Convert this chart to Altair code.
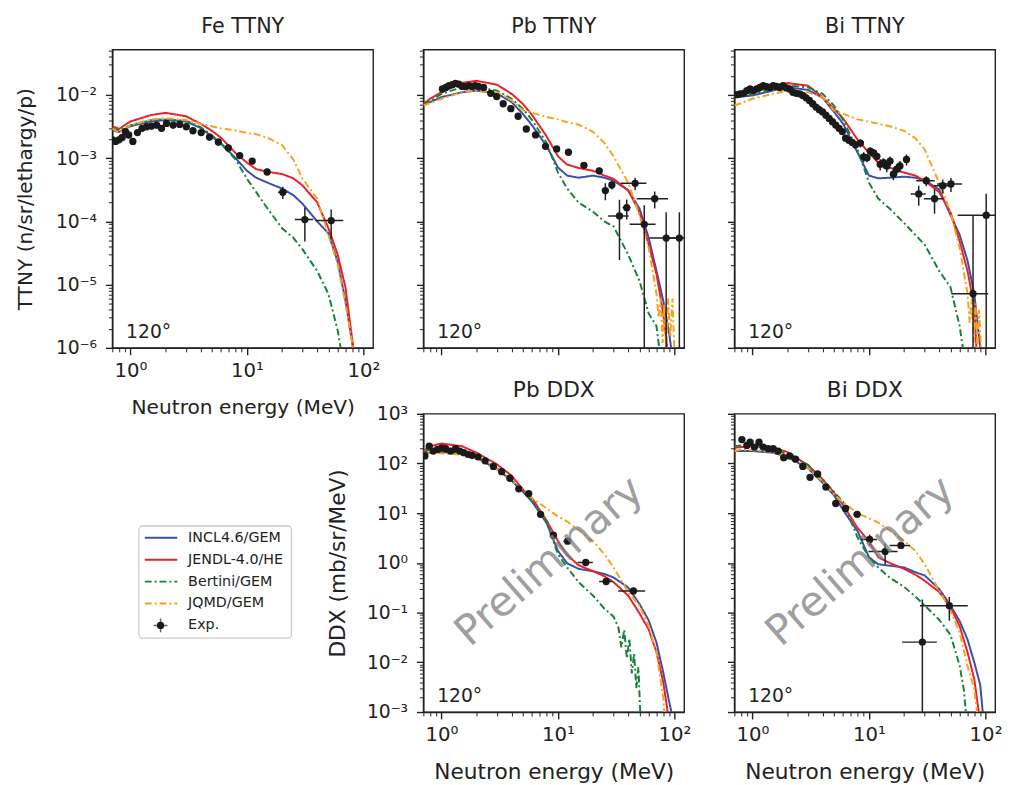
import altair as alt
import pandas as pd

# ---------------- text / categories ----------------
MODELS = ["INCL4.6/GEM", "JENDL-4.0/HE", "Bertini/GEM", "JQMD/GEM"]
COLORS = ["#3850a8", "#ec2027", "#17813c", "#f6a21c"]
DASHES = [[1, 0], [1, 0], [7, 3, 2, 3], [7, 3, 2, 3]]
EXP_LABEL = "Exp."
ANGLE_LABEL = "120°"
WATERMARK = "Preliminary"
PANEL_TITLES = ["Fe TTNY", "Pb TTNY", "Bi TTNY", "Pb DDX", "Bi DDX"]
X_TITLE = "Neutron energy (MeV)"
Y_TITLE_TTNY = "TTNY (n/sr/lethargy/p)"
Y_TITLE_DDX = "DDX (mb/sr/MeV)"

XDOMAIN = [0.7, 121]
TTNY_DOMAIN = [1e-6, 0.052]
DDX_DOMAIN = [1e-3, 1e3]
XTICKS = [0.7, 0.8, 0.9, 1, 2, 3, 4, 5, 6, 7, 8, 9, 10, 20, 30, 40, 50, 60, 70, 80, 90, 100]
TTNY_TICKS = [m * 10.0 ** e for e in range(-6, -2) for m in range(1, 10)] + [0.01, 0.02, 0.03, 0.04, 0.05]
DDX_TICKS = [m * 10.0 ** e for e in range(-3, 3) for m in range(1, 10)] + [1000]

# ---------------- energy grid of the read-off curves (MeV) ----------------
G = [0.7, 0.8, 1.0, 1.5, 2, 3, 4, 5, 6, 8, 10, 12, 15, 20, 25, 30, 40, 50, 60, 70, 80]

# ---------------- Fe TTNY ----------------
FE_INCL_E = G + [85]
FE_INCL = [2.75e-3, 2.6e-3, 3.2e-3, 3.8e-3, 4.0e-3, 3.8e-3, 3.0e-3, 2.2e-3, 1.7e-3, 1.0e-3, 6.3e-4,
           4.9e-4, 4.1e-4, 3.3e-4, 2.6e-4, 1.9e-4, 1.0e-4, 6.5e-5, 2.3e-5, 5.6e-6, 1.2e-6, 5e-7]
FE_JENDL_E = G + [85]
FE_JENDL = [3.2e-3, 2.9e-3, 3.8e-3, 4.8e-3, 5.2e-3, 4.6e-3, 3.5e-3, 2.7e-3, 2.1e-3, 1.2e-3, 8.5e-4,
            6.7e-4, 6.1e-4, 5.6e-4, 4.8e-4, 3.7e-4, 2.0e-4, 7.8e-5, 3.0e-5, 9.1e-6, 1.35e-6, 6e-7]
FE_BERT_E = G[:18] + [60, 65]
FE_BERT = [2.95e-3, 2.75e-3, 3.3e-3, 4.0e-3, 4.1e-3, 3.9e-3, 3.1e-3, 2.3e-3, 1.7e-3, 9.5e-4, 4.7e-4,
           2.9e-4, 1.6e-4, 7.8e-5, 5.5e-5, 3.6e-5, 1.65e-5, 7.1e-6, 1.9e-6, 8e-7]
FE_JQMD_E = G + [85]
FE_JQMD = [2.95e-3, 2.5e-3, 3.3e-3, 4.1e-3, 4.3e-3, 4.0e-3, 3.5e-3, 3.2e-3, 2.95e-3, 2.75e-3, 2.5e-3,
           2.4e-3, 2.1e-3, 1.6e-3, 9.5e-4, 4.7e-4, 2.3e-4, 6.1e-5, 2.1e-5, 5e-6, 1.2e-6, 5e-7]
FE_EXP_E = [0.704, 0.746, 0.797, 0.850, 0.907, 0.968, 1.05, 1.15, 1.26, 1.38, 1.52, 1.68, 1.85, 2.04,
            2.33, 2.65, 3.02, 3.44, 4.05, 4.77, 5.68, 6.93, 8.67, 11.1, 14.9, 20.3, 31.4, 52.8]
FE_EXP_V = [1.95e-3, 1.84e-3, 1.95e-3, 2.12e-3, 2.63e-3, 2.33e-3, 1.84e-3, 2.54e-3, 2.96e-3, 3.14e-3,
            3.22e-3, 3.34e-3, 2.96e-3, 3.54e-3, 3.34e-3, 3.42e-3, 3.14e-3, 2.72e-3, 2.54e-3, 2.15e-3,
            1.80e-3, 1.45e-3, 1.10e-3, 8.98e-4, 6.05e-4, 2.89e-4, 1.07e-4, 1.03e-4]
FE_EXP_DY = [0.12, 0.12, 0.12, 0.12, 0.12, 0.12, 0.12, 0.12, 0.12, 0.12, 0.12, 0.12, 0.12, 0.12,
             0.12, 0.12, 0.12, 0.12, 0.12, 0.12, 0.12, 0.12, 0.12, 0.12, 0.12, 0.22, 0.55, 0.5]
FE_EXP_DE = [0.02, 0.02, 0.02, 0.02, 0.02, 0.02, 0.02, 0.02, 0.02, 0.02, 0.02, 0.02, 0.02, 0.02,
             0.02, 0.02, 0.02, 0.02, 0.02, 0.02, 0.02, 0.02, 0.02, 0.03, 0.05, 0.09, 0.18, 0.27]

# ---------------- Pb TTNY ----------------
PB_INCL_E = G + [90, 95]
PB_INCL = [6.8e-3, 7.7e-3, 9.2e-3, 1.1e-2, 1.17e-2, 1.06e-2, 7.7e-3, 5.0e-3, 3.3e-3, 1.54e-3, 7.1e-4,
           5.3e-4, 4.9e-4, 5.3e-4, 4.9e-4, 4.4e-4, 3.1e-4, 1.6e-4, 5.5e-5, 1.65e-5, 5.6e-6, 1.7e-6, 8e-7]
PB_JENDL_E = G + [88]
PB_JENDL = [7.2e-3, 8.7e-3, 1.1e-2, 1.55e-2, 1.67e-2, 1.45e-2, 1.04e-2, 7.2e-3, 4.8e-3, 2.2e-3, 1.07e-3,
            7.9e-4, 7.0e-4, 6.3e-4, 5.3e-4, 4.7e-4, 3.1e-4, 1.4e-4, 4.3e-5, 1.47e-5, 3.5e-6, 8e-7]
PB_BERT_E = G[:20] + [75]
PB_BERT = [7.2e-3, 7.9e-3, 1.04e-2, 1.32e-2, 1.32e-2, 1.17e-2, 8.7e-3, 6.0e-3, 4.0e-3, 1.74e-3, 5.9e-4,
           3.3e-4, 2.0e-4, 1.42e-4, 1.0e-4, 8.3e-5, 3.0e-5, 1.15e-5, 3.5e-6, 2.2e-6, 8e-7]
PB_JQMD_E = G[:20] + [73, 76, 79, 82, 85, 88, 92, 96, 100]
PB_JQMD = [6.8e-3, 7.4e-3, 8.7e-3, 1.1e-2, 1.17e-2, 1.1e-2, 8.2e-3, 5.7e-3, 5.2e-3, 4.5e-3, 4.1e-3,
           3.7e-3, 3.4e-3, 2.6e-3, 1.74e-3, 1.07e-3, 4.1e-4, 1.26e-4, 3.8e-5, 7.1e-6,
           3e-6, 6e-6, 1.2e-6, 5e-6, 8e-7, 6e-6, 1.5e-6, 6e-6, 8e-7]
PB_EXP_E = [1.02, 1.09, 1.16, 1.24, 1.32, 1.41, 1.51, 1.61, 1.72, 1.83, 1.95, 2.08, 2.30, 2.65, 2.98,
            3.39, 3.94, 4.55, 5.35, 6.42, 7.82, 9.74, 12.3, 16.7, 22.6, 25.5, 29.0, 33.7, 38.9, 45.9,
            55.0, 67.6, 84.8, 110]
PB_EXP_V = [1.24e-2, 1.31e-2, 1.40e-2, 1.45e-2, 1.52e-2, 1.48e-2, 1.36e-2, 1.35e-2, 1.40e-2, 1.36e-2,
            1.40e-2, 1.36e-2, 1.31e-2, 1.06e-2, 9.4e-3, 7.25e-3, 6.05e-3, 4.6e-3, 2.89e-3, 2.33e-3,
            1.54e-3, 1.40e-3, 1.24e-3, 7.7e-4, 6.3e-4, 3.07e-4, 3.76e-4, 1.22e-4, 1.65e-4, 4.0e-4,
            9.0e-5, 2.28e-4, 5.45e-5, 5.45e-5]
PB_EXP_DY = [0.06, 0.06, 0.06, 0.06, 0.06, 0.06, 0.06, 0.06, 0.06, 0.06, 0.06, 0.06, 0.06, 0.08, 0.08,
             0.08, 0.08, 0.08, 0.1, 0.1, 0.1, 0.1, 0.1, 0.12, 0.12, 0.3, 0.15, 0.8, 0.35, 0.22,
             1.0, 0.3, 1.57, 1.57]
PB_EXP_DE = [0.02, 0.02, 0.02, 0.02, 0.02, 0.02, 0.02, 0.02, 0.02, 0.02, 0.02, 0.02, 0.02, 0.02, 0.02,
             0.02, 0.02, 0.02, 0.02, 0.02, 0.02, 0.02, 0.03, 0.04, 0.05, 0.06, 0.05, 0.2, 0.08, 0.25,
             0.25, 0.3, 0.28, 0.2]

# ---------------- Bi TTNY ----------------
BI_INCL_E = G + [90]
BI_INCL = [9.2e-3, 9.4e-3, 9.8e-3, 1.17e-2, 1.32e-2, 1.2e-2, 9.0e-3, 5.4e-3, 3.5e-3, 1.21e-3, 5.3e-4,
           4.8e-4, 4.9e-4, 5.1e-4, 4.9e-4, 4.5e-4, 3.2e-4, 1.26e-4, 6.1e-5, 2.4e-5, 7.2e-6, 1e-6]
BI_JENDL_E = G + [84]
BI_JENDL = [9.2e-3, 9.8e-3, 1.1e-2, 1.4e-2, 1.54e-2, 1.4e-2, 9.2e-3, 6.05e-3, 4.24e-3, 1.95e-3, 1.21e-3,
            8.5e-4, 7.1e-4, 5.9e-4, 5.3e-4, 4.4e-4, 2.9e-4, 1.4e-4, 4.8e-5, 1.65e-5, 4.5e-6, 8e-7]
BI_BERT_E = G[:19] + [65]
BI_BERT = [9.4e-3, 9.8e-3, 1.04e-2, 1.24e-2, 1.4e-2, 1.32e-2, 1.04e-2, 6.8e-3, 4.0e-3, 1.36e-3, 4.1e-4,
           2.3e-4, 1.6e-4, 9.4e-5, 6.1e-5, 4.3e-5, 1.65e-5, 9.1e-6, 2.2e-6, 8e-7]
BI_JQMD_E = G[:20] + [73, 76, 79, 82, 85, 88, 92]
BI_JQMD = [6.8e-3, 7.4e-3, 8.7e-3, 1.04e-2, 1.17e-2, 1.1e-2, 9.2e-3, 5.7e-3, 5.0e-3, 4.1e-3, 3.76e-3,
           3.5e-3, 3.2e-3, 2.7e-3, 2.07e-3, 1.37e-3, 4.1e-4, 1.4e-4, 3.8e-5, 7.2e-6,
           2.5e-6, 6e-6, 1.2e-6, 5e-6, 1e-6, 4e-6, 8e-7]
BI_EXP_E = [0.737, 0.786, 0.839, 0.895, 0.955, 1.02, 1.088, 1.161, 1.239, 1.323, 1.411, 1.507, 1.607,
            1.716, 1.831, 1.954, 2.085, 2.226, 2.375, 2.535, 2.705, 2.887, 3.082, 3.289, 3.51, 3.746,
            3.998, 4.266, 4.553, 4.858, 5.185, 5.533, 5.905, 6.30, 6.73, 7.18, 7.66, 8.45, 9.01, 9.62,
            10.26, 10.95, 11.69, 12.47, 13.31, 14.21, 15.16, 16.18, 17.27, 18.43, 20.99, 26.7, 31.0,
            36.5, 42.9, 50.5, 78.1, 101.3]
BI_EXP_V = [1.01e-2, 1.04e-2, 1.06e-2, 1.17e-2, 1.24e-2, 1.17e-2, 1.24e-2, 1.31e-2, 1.40e-2, 1.35e-2,
            1.31e-2, 1.40e-2, 1.36e-2, 1.31e-2, 1.40e-2, 1.29e-2, 1.24e-2, 1.10e-2, 1.06e-2, 1.04e-2,
            9.8e-3, 8.98e-3, 8.16e-3, 7.25e-3, 6.43e-3, 5.85e-3, 5.38e-3, 4.78e-3, 4.24e-3, 3.76e-3,
            3.34e-3, 2.96e-3, 2.63e-3, 2.07e-3, 1.91e-3, 1.77e-3, 1.63e-3, 1.73e-3, 1.05e-3, 1.01e-3,
            1.29e-3, 1.21e-3, 1.07e-3, 7.98e-4, 8.46e-4, 7.51e-4, 8.98e-4, 5.57e-4, 6.67e-4, 7.51e-4,
            9.53e-4, 2.72e-4, 4.39e-4, 2.28e-4, 3.67e-4, 3.90e-4, 7.2e-6, 1.25e-4]
BI_EXP_DY = [0.08, 0.08, 0.08, 0.08, 0.08, 0.08, 0.08, 0.08, 0.08, 0.08, 0.08, 0.08, 0.08, 0.08, 0.08,
             0.08, 0.08, 0.08, 0.08, 0.08, 0.08, 0.08, 0.08, 0.08, 0.08, 0.08, 0.08, 0.08, 0.08, 0.08,
             0.1, 0.1, 0.1, 0.1, 0.1, 0.12, 0.12, 0.15, 0.18, 0.15, 0.15, 0.15, 0.15, 0.2, 0.18,
             0.2, 0.18, 0.2, 0.2, 0.2, 0.2, 0.35, 0.18, 0.42, 0.25, 0.25, 16.4, 1.18]
BI_EXP_DE = [0.02, 0.02, 0.02, 0.02, 0.02, 0.02, 0.02, 0.02, 0.02, 0.02, 0.02, 0.02, 0.02, 0.02, 0.02,
             0.02, 0.02, 0.02, 0.02, 0.02, 0.02, 0.02, 0.02, 0.02, 0.02, 0.02, 0.02, 0.02, 0.02, 0.02,
             0.025, 0.025, 0.025, 0.025, 0.025, 0.03, 0.03, 0.03, 0.03, 0.03, 0.035, 0.035, 0.035,
             0.035, 0.035, 0.04, 0.04, 0.04, 0.04, 0.04, 0.05, 0.146, 0.18, 0.19, 0.16, 0.24, 0.35, 0.43]

# ---------------- Pb DDX ----------------
PBD_INCL_E = G + [90, 95]
PBD_INCL = [165, 165, 170, 160, 131, 77, 45, 27, 17, 6.3, 1.74, 0.98, 0.76, 0.68, 0.60, 0.51, 0.32,
            0.15, 0.07, 0.025, 6.3e-3, 1.6e-3, 9e-4]
PBD_JENDL_E = G + [88]
PBD_JENDL = [178, 223, 252, 223, 165, 96, 57, 30, 20, 7.1, 2.74, 1.45, 0.9, 0.68, 0.54, 0.41, 0.22,
             0.097, 0.046, 0.016, 4e-3, 9e-4]
PBD_BERT_E = G[:16] + [33, 35, 37, 39, 41, 43, 45, 47, 49, 51]
PBD_BERT = [170, 192, 178, 165, 136, 80, 47, 28, 18, 6.8, 1.49, 0.81, 0.41, 0.22, 0.12, 0.083,
            0.05, 0.02, 0.045, 0.012, 0.03, 0.006, 0.015, 0.003, 0.008, 8e-4]
PBD_JQMD_E = G + [82]
PBD_JQMD = [142, 165, 160, 150, 125, 77, 45, 30, 20, 12.5, 8.6, 6.8, 4.6, 2.74, 1.49, 0.81, 0.26,
            0.14, 0.053, 0.016, 1.9e-3, 9e-4]
PBD_EXP_E = [0.722, 0.786, 0.850, 0.925, 1.006, 1.088, 1.20, 1.323, 1.439, 1.556, 1.694, 1.831, 2.06,
             2.375, 2.795, 3.289, 3.87, 4.61, 5.61, 7.09, 9.13, 12.1, 17.3, 25.9, 44.4]
PBD_EXP_V = [142, 223, 178, 192, 207, 198, 178, 198, 178, 165, 153, 146, 136, 113, 87.3, 68.4, 50.5,
             31.0, 24.8, 9.51, 3.60, 2.74, 1.02, 0.423, 0.273]
PBD_EXP_DY = [0.04, 0.04, 0.04, 0.04, 0.04, 0.04, 0.04, 0.04, 0.04, 0.04, 0.04, 0.04, 0.04, 0.04, 0.04,
              0.04, 0.04, 0.04, 0.04, 0.05, 0.06, 0.08, 0.1, 0.12, 0.15]
PBD_EXP_DE = [0.02, 0.02, 0.02, 0.02, 0.02, 0.02, 0.02, 0.02, 0.02, 0.02, 0.02, 0.02, 0.02, 0.02, 0.02,
              0.02, 0.02, 0.02, 0.02, 0.03, 0.04, 0.08, 0.15, 0.13, 0.26]

# ---------------- Bi DDX ----------------
BID_INCL_E = G + [90, 95]
BID_INCL = [178, 178, 178, 165, 135, 80, 41, 23, 11.6, 4.3, 1.3, 0.94, 0.88, 0.81, 0.65, 0.56, 0.30,
            0.14, 0.067, 0.029, 0.01, 3.5e-3, 9e-4]
BID_JENDL_E = G + [88]
BID_JENDL = [207, 214, 223, 207, 170, 92, 48, 26, 14.5, 5.0, 2.74, 1.3, 1.0, 0.76, 0.58, 0.44, 0.26,
             0.13, 0.053, 0.016, 4.6e-3, 9e-4]
BID_BERT_E = G[:19] + [65, 68]
BID_BERT = [223, 230, 223, 192, 153, 94, 48, 27, 17, 3.2, 1.3, 0.81, 0.51, 0.33, 0.21, 0.14, 0.072,
            0.036, 8.5e-3, 2.9e-3, 9e-4]
BID_JQMD_E = G + [85]
BID_JQMD = [178, 192, 186, 170, 135, 81, 43, 24, 16.5, 10, 7.9, 6.5, 4.5, 2.8, 1.74, 0.94, 0.28,
            0.11, 0.039, 8.5e-3, 2.9e-3, 9e-4]
BID_EXP_E = [0.812, 0.895, 0.955, 1.04, 1.139, 1.239, 1.366, 1.507, 1.661, 1.855, 2.085, 2.344, 2.705,
             3.12, 3.625, 4.266, 5.185, 6.30, 7.91, 10.13, 13.75, 18.79, 28.7, 48.9]
BID_EXP_V = [303, 231, 268, 214, 268, 214, 198, 198, 178, 131, 142, 122, 87.3, 52.8, 61.5, 33.5, 15.7,
             12.5, 9.51, 2.96, 1.69, 2.25, 0.0255, 0.138]
BID_EXP_DY = [0.04, 0.04, 0.04, 0.04, 0.04, 0.04, 0.04, 0.04, 0.04, 0.04, 0.04, 0.04, 0.04, 0.04, 0.04,
              0.04, 0.04, 0.04, 0.06, 0.25, 0.45, 0.08, 6.2, 0.5]
BID_EXP_DE = [0.02, 0.02, 0.02, 0.02, 0.02, 0.02, 0.02, 0.02, 0.02, 0.02, 0.02, 0.02, 0.02, 0.02, 0.02,
              0.02, 0.02, 0.02, 0.07, 0.16, 0.28, 0.2, 0.33, 0.44]

# ---------------- helpers ----------------
FONT = "DejaVu Sans"
INK = "#222222"
W, H = 265, 303

MAJOR = "abs(log(datum.value)/LN10 - round(log(datum.value)/LN10)) < 0.001"
SUP = "['\u207b\u2076','\u207b\u2075','\u207b\u2074','\u207b\u00b3','\u207b\u00b2','\u207b\u00b9','\u2070','\u00b9','\u00b2','\u00b3']"
LABEL_EXPR = MAJOR + " ? '10' + " + SUP + "[round(log(datum.value)/LN10) + 6] : ''"
TICK_SIZE = {"condition": {"test": MAJOR, "value": 7}, "value": 4}
TICK_WIDTH = {"condition": {"test": MAJOR, "value": 1.4}, "value": 1.0}


def curves_frame(series):
    rows = []
    for model, es, vs in series:
        assert len(es) == len(vs), model
        for e, v in zip(es, vs):
            rows.append({"model": model, "E": e, "v": v})
    return pd.DataFrame(rows)


def exp_frame(es, vs, dys, des, floor):
    assert len(es) == len(vs) == len(dys) == len(des)
    rows = []
    for e, v, dy, de in zip(es, vs, dys, des):
        rows.append({"E": e, "v": v,
                     "vlo": max(v * (1 - dy), floor), "vhi": v * (1 + dy),
                     "Elo": e * (1 - de), "Ehi": e * (1 + de)})
    return pd.DataFrame(rows)


def make_axis(show_labels, title, ticks, label_size, title_size, title_pad, label_pad):
    kw = dict(values=ticks, tickSize=TICK_SIZE, tickWidth=TICK_WIDTH, tickColor=INK,
              domainColor=INK, domainWidth=1.4, grid=False, labelFlush=False,
              labelOverlap=False, labels=show_labels, title=title)
    if show_labels:
        kw.update(labelExpr=LABEL_EXPR, labelFontSize=label_size, labelColor=INK,
                  labelFont=FONT, labelPadding=label_pad)
    if title:
        kw.update(titleFontSize=title_size, titleColor=INK, titleFont=FONT,
                  titleFontWeight="normal", titlePadding=title_pad)
    return alt.Axis(**kw)


def panel(series, exp, ydomain, yticks, title, show_x, show_y, ytitle, big, watermark):
    xs = alt.Scale(type="log", domain=XDOMAIN, nice=False)
    ys = alt.Scale(type="log", domain=ydomain, nice=False)
    tsize = 22 if big else 20.5
    xa = make_axis(show_x, X_TITLE if show_x else "", XTICKS, 20, tsize, 18, 6)
    ya = make_axis(show_y, ytitle if show_y else "", yticks, 19, tsize, 17 if big else 20, 9)
    X = lambda f: alt.X(f, scale=xs, axis=xa)
    Y = lambda f: alt.Y(f, scale=ys, axis=ya)
    color = alt.Color("model:N", scale=alt.Scale(domain=MODELS, range=COLORS), legend=None)
    dash = alt.StrokeDash("model:N", scale=alt.Scale(domain=MODELS, range=DASHES), legend=None)

    cdf = curves_frame(series)
    layers = []
    for m in MODELS:
        layers.append(
            alt.Chart(cdf[cdf["model"] == m]).mark_line(strokeWidth=2, clip=True)
            .encode(x=X("E:Q"), y=Y("v:Q"), color=color, strokeDash=dash)
        )
    edf = exp_frame(*exp)
    layers.append(alt.Chart(edf).mark_rule(color=INK, strokeWidth=1.5, clip=True)
                  .encode(x=X("E:Q"), y=Y("vlo:Q"), y2="vhi:Q"))
    layers.append(alt.Chart(edf).mark_rule(color=INK, strokeWidth=1.5, clip=True)
                  .encode(x=X("Elo:Q"), x2="Ehi:Q", y=Y("v:Q")))
    layers.append(alt.Chart(edf).mark_circle(size=55, color="#1a1a1a", opacity=1, clip=True)
                  .encode(x=X("E:Q"), y=Y("v:Q")))
    ann = pd.DataFrame({"t": [ANGLE_LABEL], "title": [title]})
    layers.append(alt.Chart(ann).mark_text(align="left", baseline="alphabetic", fontSize=19,
                                           font=FONT, color=INK)
                  .encode(text="t:N", x=alt.value(14), y=alt.value(293)))
    # panel title drawn as text so its position does not depend on axis bounds
    layers.append(alt.Chart(ann).mark_text(align="center", baseline="alphabetic",
                                           fontSize=22 if big else 21, font=FONT, color=INK)
                  .encode(text="title:N", x=alt.value(W / 2), y=alt.value(-17)))
    if watermark:
        wm = pd.DataFrame({"t": [WATERMARK]})
        layers.append(alt.Chart(wm).mark_text(align="center", baseline="middle", fontSize=42,
                                              font=FONT, color="#7f7f7f", opacity=0.75, angle=319)
                      .encode(text="t:N", x=alt.value(128), y=alt.value(150)))
    return alt.layer(*layers).properties(width=W, height=H)


def legend_panel():
    labels = MODELS + [EXP_LABEL]
    ysc = alt.Scale(type="point", domain=labels, range=[126, 215], padding=0)
    Yl = alt.Y("label:N", scale=ysc, axis=None)
    color = alt.Color("label:N", scale=alt.Scale(domain=MODELS, range=COLORS), legend=None)
    dash = alt.StrokeDash("label:N", scale=alt.Scale(domain=MODELS, range=DASHES), legend=None)
    lines = pd.DataFrame({"label": MODELS})
    allrows = pd.DataFrame({"label": labels})
    exp = pd.DataFrame({"label": [EXP_LABEL]})
    box = pd.DataFrame({"k": [0]})
    layers = [
        alt.Chart(box).mark_rect(fill="white", stroke="#cccccc", strokeWidth=1.3, cornerRadius=4)
        .encode(x=alt.value(27), x2=alt.value(182), y=alt.value(114), y2=alt.value(228)),
        alt.Chart(lines).mark_rule(strokeWidth=2)
        .encode(y=Yl, x=alt.value(33), x2=alt.value(66), color=color, strokeDash=dash),
        alt.Chart(exp).mark_point(shape="M-1,0H1M0,-1V1", size=196, filled=False, strokeWidth=1.5,
                                  color=INK).encode(y=Yl, x=alt.value(49)),
        alt.Chart(exp).mark_circle(size=55, color="#1a1a1a", opacity=1).encode(y=Yl, x=alt.value(49)),
        alt.Chart(allrows).mark_text(align="left", baseline="middle", fontSize=14.5, font=FONT, color=INK)
        .encode(y=Yl, x=alt.value(77), text="label:N"),
    ]
    return alt.layer(*layers).properties(width=W, height=H, view=alt.ViewBackground(stroke="transparent"))


fe = panel([(MODELS[0], FE_INCL_E, FE_INCL), (MODELS[1], FE_JENDL_E, FE_JENDL),
            (MODELS[2], FE_BERT_E, FE_BERT), (MODELS[3], FE_JQMD_E, FE_JQMD)],
           (FE_EXP_E, FE_EXP_V, FE_EXP_DY, FE_EXP_DE, 1e-9),
           TTNY_DOMAIN, TTNY_TICKS, PANEL_TITLES[0], True, True, Y_TITLE_TTNY, False, False)
pb = panel([(MODELS[0], PB_INCL_E, PB_INCL), (MODELS[1], PB_JENDL_E, PB_JENDL),
            (MODELS[2], PB_BERT_E, PB_BERT), (MODELS[3], PB_JQMD_E, PB_JQMD)],
           (PB_EXP_E, PB_EXP_V, PB_EXP_DY, PB_EXP_DE, 1e-9),
           TTNY_DOMAIN, TTNY_TICKS, PANEL_TITLES[1], False, False, Y_TITLE_TTNY, False, False)
bi = panel([(MODELS[0], BI_INCL_E, BI_INCL), (MODELS[1], BI_JENDL_E, BI_JENDL),
            (MODELS[2], BI_BERT_E, BI_BERT), (MODELS[3], BI_JQMD_E, BI_JQMD)],
           (BI_EXP_E, BI_EXP_V, BI_EXP_DY, BI_EXP_DE, 1e-9),
           TTNY_DOMAIN, TTNY_TICKS, PANEL_TITLES[2], False, False, Y_TITLE_TTNY, False, False)
pbd = panel([(MODELS[0], PBD_INCL_E, PBD_INCL), (MODELS[1], PBD_JENDL_E, PBD_JENDL),
             (MODELS[2], PBD_BERT_E, PBD_BERT), (MODELS[3], PBD_JQMD_E, PBD_JQMD)],
            (PBD_EXP_E, PBD_EXP_V, PBD_EXP_DY, PBD_EXP_DE, 1e-6),
            DDX_DOMAIN, DDX_TICKS, PANEL_TITLES[3], True, True, Y_TITLE_DDX, True, True)
bid = panel([(MODELS[0], BID_INCL_E, BID_INCL), (MODELS[1], BID_JENDL_E, BID_JENDL),
             (MODELS[2], BID_BERT_E, BID_BERT), (MODELS[3], BID_JQMD_E, BID_JQMD)],
            (BID_EXP_E, BID_EXP_V, BID_EXP_DY, BID_EXP_DE, 1e-6),
            DDX_DOMAIN, DDX_TICKS, PANEL_TITLES[4], True, False, Y_TITLE_DDX, True, True)

chart = (
    alt.concat(fe, pb, bi, legend_panel(), pbd, bid, columns=3,
               spacing={"row": 67, "column": 51}, bounds="flush")
    .properties(padding={"left": 7, "top": 1, "right": 5, "bottom": 5})
    .configure(font=FONT)
    .configure_view(stroke=INK, strokeWidth=1.4)
)

chart.save("out.html", embed_options={"renderer": "svg", "actions": False})
